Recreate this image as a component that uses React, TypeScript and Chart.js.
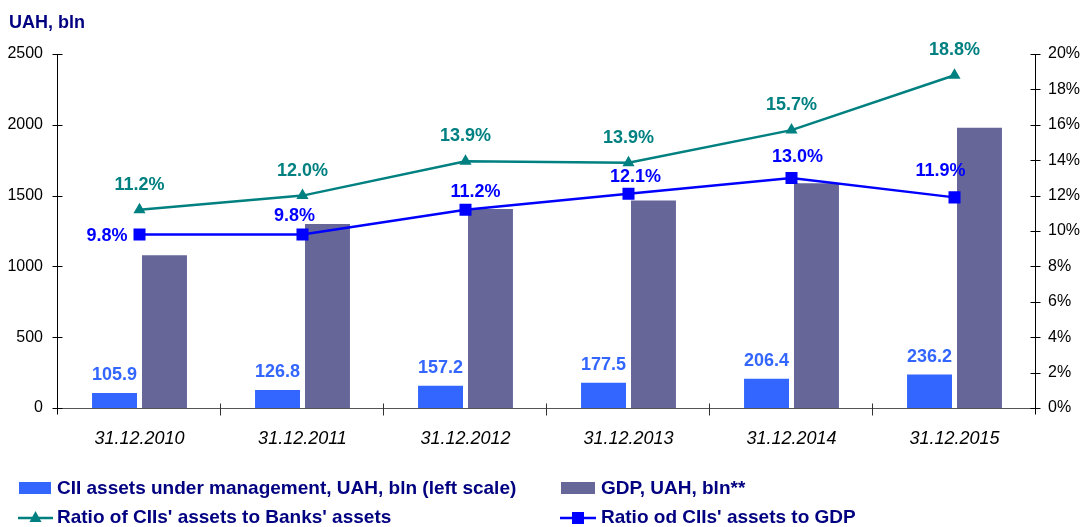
import React, { useEffect, useRef } from "react";
import { Chart, registerables } from "chart.js";

Chart.register(...registerables);

const categories = ["31.12.2010", "31.12.2011", "31.12.2012", "31.12.2013", "31.12.2014", "31.12.2015"];
const ciiAssets = [105.9, 126.8, 157.2, 177.5, 206.4, 236.2];
const gdp = [1079, 1300, 1405, 1465, 1587, 1979];
const ratioBanks = [11.2, 12.0, 13.94, 13.86, 15.7, 18.8];
const ratioGdp = [9.8, 9.8, 11.2, 12.1, 13.0, 11.9];
const leftTicks = [0, 500, 1000, 1500, 2000, 2500];
const rightTicks = [0, 2, 4, 6, 8, 10, 12, 14, 16, 18, 20];

const legendLabels = [
  "CII assets under management, UAH, bln (left scale)",
  "GDP, UAH, bln**",
  "Ratio of CIIs' assets to Banks' assets",
  "Ratio od CIIs' assets to GDP",
];
const titleText = "UAH, bln";

const FONT = "Arial, 'Liberation Sans', sans-serif";
const C_BAR = "#3366FF";
const C_GDP = "#666699";
const C_TEAL = "#008080";
const C_BLUE = "#0000FF";
const C_NAVY = "#000080";

// label placement for the GDP-ratio line (dx, dy, align)
const gdpLabelPos = [
  { dx: -12, dy: 6, align: "right" },
  { dx: -8, dy: -14, align: "center" },
  { dx: 10, dy: -13, align: "center" },
  { dx: 7, dy: -12, align: "center" },
  { dx: 6, dy: -16, align: "center" },
  { dx: -14, dy: -21, align: "center" },
];

const overlay = {
  id: "overlay",
  afterDatasetsDraw(chart: any) {
    const ctx = chart.ctx as CanvasRenderingContext2D;
    const { left, right, top, bottom } = chart.chartArea;
    const yl = chart.scales.y;
    const yr = chart.scales.y1;
    ctx.save();
    const L = Math.round(left) - 0.5;
    const R = Math.round(right) - 0.5;
    const B = Math.round(bottom) + 0.5;
    // x axis line
    ctx.lineWidth = 1;
    ctx.strokeStyle = "#555";
    ctx.beginPath();
    ctx.moveTo(L, B);
    ctx.lineTo(R, B);
    ctx.stroke();
    // category boundary ticks
    const n = categories.length;
    const w = (right - left) / n;
    ctx.strokeStyle = "#333";
    for (let i = 1; i < n; i++) {
      const x = Math.round(left + w * i) - 0.5;
      ctx.beginPath();
      ctx.moveTo(x, B - 5);
      ctx.lineTo(x, B + 7);
      ctx.stroke();
    }
    // left axis
    ctx.strokeStyle = "#000";
    ctx.beginPath();
    ctx.moveTo(L, top);
    ctx.lineTo(L, B + 6);
    ctx.stroke();
    for (const v of leftTicks) {
      const y = Math.round(yl.getPixelForValue(v)) + 0.5;
      ctx.beginPath();
      ctx.moveTo(L - 5, y);
      ctx.lineTo(L + 5, y);
      ctx.stroke();
    }
    // right axis
    ctx.beginPath();
    ctx.moveTo(R, top);
    ctx.lineTo(R, B + 6);
    ctx.stroke();
    for (const v of rightTicks) {
      const y = Math.round(yr.getPixelForValue(v)) + 0.5;
      ctx.beginPath();
      ctx.moveTo(R - 5, y);
      ctx.lineTo(R + 5, y);
      ctx.stroke();
    }

    // bar labels
    ctx.font = `bold 18px ${FONT}`;
    ctx.textBaseline = "alphabetic";
    ctx.textAlign = "center";
    ctx.fillStyle = C_BAR;
    const m0 = chart.getDatasetMeta(0);
    m0.data.forEach((el: any, i: number) => {
      ctx.fillText(ciiAssets[i].toFixed(1), el.x, el.y - 13);
    });
    // ratio to banks labels
    ctx.fillStyle = C_TEAL;
    const m2 = chart.getDatasetMeta(2);
    m2.data.forEach((el: any, i: number) => {
      ctx.textAlign = "center";
      ctx.fillText(ratioBanks[i].toFixed(1) + "%", el.x, el.y - 20);
    });
    // ratio to gdp labels
    ctx.fillStyle = C_BLUE;
    const m3 = chart.getDatasetMeta(3);
    m3.data.forEach((el: any, i: number) => {
      const p = gdpLabelPos[i];
      ctx.textAlign = p.align as CanvasTextAlign;
      ctx.fillText(ratioGdp[i].toFixed(1) + "%", el.x + p.dx, el.y + p.dy);
    });
    ctx.restore();
  },
  afterDraw(chart: any) {
    const ctx = chart.ctx as CanvasRenderingContext2D;
    ctx.save();
    // title
    ctx.fillStyle = C_NAVY;
    ctx.font = `bold 18px ${FONT}`;
    ctx.textAlign = "left";
    ctx.textBaseline = "alphabetic";
    ctx.fillText(titleText, 9, 28);

    // legend
    ctx.font = `bold 19px ${FONT}`;
    ctx.fillStyle = C_BAR;
    ctx.fillRect(19, 482, 32, 12);
    ctx.fillStyle = C_GDP;
    ctx.fillRect(561, 482, 34, 12);

    ctx.lineWidth = 2.5;
    ctx.strokeStyle = C_TEAL;
    ctx.beginPath();
    ctx.moveTo(18, 518);
    ctx.lineTo(53, 518);
    ctx.stroke();
    ctx.fillStyle = C_TEAL;
    ctx.beginPath();
    ctx.moveTo(35.5, 511);
    ctx.lineTo(41.5, 522);
    ctx.lineTo(29.5, 522);
    ctx.closePath();
    ctx.fill();

    ctx.strokeStyle = C_BLUE;
    ctx.beginPath();
    ctx.moveTo(560, 518);
    ctx.lineTo(596, 518);
    ctx.stroke();
    ctx.fillStyle = C_BLUE;
    ctx.fillRect(572, 512, 12, 12);

    ctx.fillStyle = C_NAVY;
    ctx.fillText(legendLabels[0], 57, 494);
    ctx.fillText(legendLabels[1], 601, 494);
    ctx.fillText(legendLabels[2], 57, 523);
    ctx.fillText(legendLabels[3], 601, 523);
    ctx.restore();
  },
};

export default function App() {
  const ref = useRef<HTMLCanvasElement | null>(null);
  useEffect(() => {
    if (!ref.current) return;
    const chart = new Chart(ref.current, {
      type: "bar",
      data: {
        labels: categories,
        datasets: [
          {
            type: "bar",
            label: legendLabels[0],
            data: ciiAssets,
            backgroundColor: C_BAR,
            yAxisID: "y",
            barPercentage: 0.9,
            categoryPercentage: 0.613,
            order: 2,
          },
          {
            type: "bar",
            label: legendLabels[1],
            data: gdp,
            backgroundColor: C_GDP,
            yAxisID: "y",
            barPercentage: 0.9,
            categoryPercentage: 0.613,
            order: 2,
          },
          {
            type: "line",
            label: legendLabels[2],
            data: ratioBanks,
            borderColor: C_TEAL,
            backgroundColor: C_TEAL,
            borderWidth: 2.5,
            pointStyle: "triangle",
            pointRadius: 7,
            pointBorderWidth: 0,
            yAxisID: "y1",
            tension: 0,
            order: 0,
          },
          {
            type: "line",
            label: legendLabels[3],
            data: ratioGdp,
            borderColor: C_BLUE,
            backgroundColor: C_BLUE,
            borderWidth: 2.5,
            pointStyle: "rect",
            pointRadius: 8.5,
            pointBorderWidth: 0,
            yAxisID: "y1",
            tension: 0,
            order: 0,
          },
        ],
      },
      options: {
        animation: false,
        responsive: false,
        maintainAspectRatio: false,
        layout: { padding: { left: 0, right: 0, top: 54, bottom: 0 } },
        plugins: {
          legend: { display: false },
          tooltip: { enabled: false },
          title: { display: false },
        },
        scales: {
          x: {
            type: "category",
            offset: true,
            grid: { display: false, drawTicks: false },
            border: { display: false },
            ticks: {
              color: "#000",
              font: { family: FONT, size: 18, style: "italic" },
              padding: 20,
              maxRotation: 0,
              autoSkip: false,
            },
            afterFit: (s: any) => {
              s.height = 119;
            },
          },
          y: {
            position: "left",
            min: 0,
            max: 2500,
            grid: { display: false, drawTicks: false },
            border: { display: false },
            afterBuildTicks: (s: any) => {
              s.ticks = leftTicks.map((v) => ({ value: v }));
            },
            ticks: {
              color: "#000",
              font: { family: FONT, size: 16 },
              padding: 15,
              callback: (v: any) => String(v),
            },
            afterFit: (s: any) => {
              s.width = 58;
            },
          },
          y1: {
            position: "right",
            min: 0,
            max: 20,
            grid: { display: false, drawTicks: false },
            border: { display: false },
            afterBuildTicks: (s: any) => {
              s.ticks = rightTicks.map((v) => ({ value: v }));
            },
            ticks: {
              color: "#000",
              font: { family: FONT, size: 16 },
              padding: 12,
              callback: (v: any) => String(v) + "%",
            },
            afterFit: (s: any) => {
              s.width = 45;
            },
          },
        },
      },
      plugins: [overlay],
    } as any);
    return () => chart.destroy();
  }, []);
  return (
    <div style={{ position: "absolute", left: 0, top: 0, width: 1081, height: 527, background: "#fff" }}>
      <canvas ref={ref} width={1081} height={527} style={{ display: "block" }} />
    </div>
  );
}
